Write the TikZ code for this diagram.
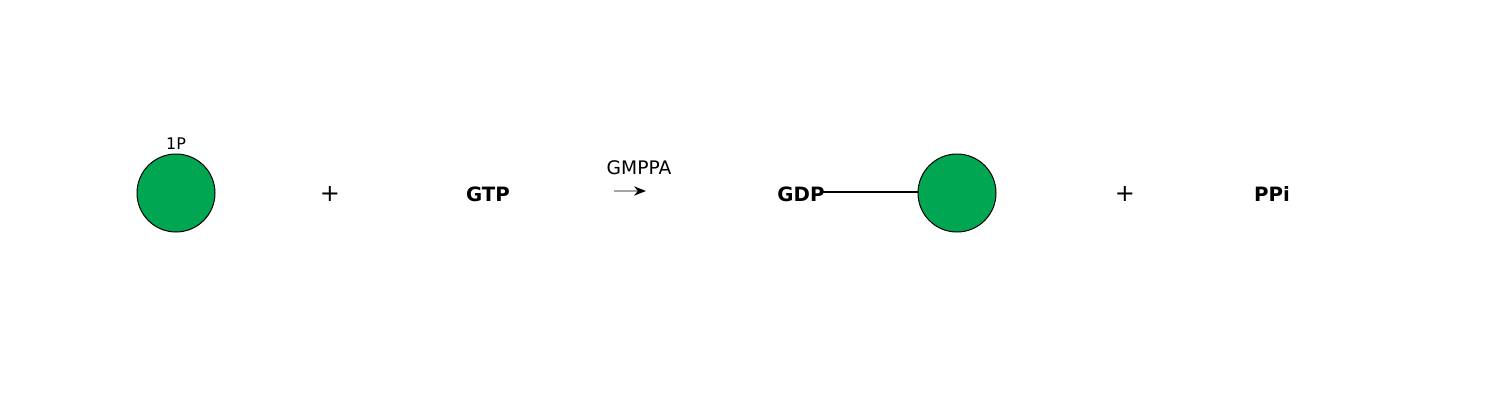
\documentclass[tikz,border=0pt]{standalone}
\usepackage{fontspec}
\setmainfont{DejaVu Sans}
\usepackage{xcolor}
\usetikzlibrary{arrows.meta}
\definecolor{glcgreen}{RGB}{0,166,81}
\tikzset{
    sugar/.style={circle,draw=black,fill=glcgreen,line width=0.75pt,minimum size=58.5pt,inner sep=0pt},
    mol/.style={font=\fontsize{14.8}{17}\selectfont\bfseries,inner sep=0pt},
    txt/.style={font=\fontsize{14}{16}\selectfont,inner sep=0pt},
    pls/.style={font=\fontsize{18}{20}\selectfont,inner sep=0pt},
    small/.style={font=\fontsize{12}{14}\selectfont,inner sep=0pt}
}

\begin{document}
\begin{tikzpicture}[x=0.75pt,y=-0.75pt]
        \useasboundingbox (0,0) rectangle (1500,400);
        % left side
        \node[sugar] (s1) at (176,193) {};
        \node[small] (p1) at (176,144) {1P};
        \node[pls] (plus1) at (330,194) {+};
        \node[mol] (gtp) at (488,194) {GTP};
        % enzyme
        \node[txt] (enz) at (639,168) {GMPPA};
        \coordinate (r1) at (614,191);
        \coordinate (r2) at (646,191);
        \draw[line width=1pt,gray!70,-{Stealth[black,length=9pt,width=7pt]}] (r1)--(r2);
        % right side
        \node[mol] (gdp) at (801,194) {GDP};
        \node[sugar] (s2) at (957,193) {};
        \draw[line width=1.5pt,black] ([xshift=-3pt,yshift=1.5pt]gdp.east)--(s2.west |- {0,192});
        \node[pls] (plus2) at (1125,194) {+};
        \node[mol] (ppi) at (1272,194) {PPi};
    \end{tikzpicture}
\end{document}
